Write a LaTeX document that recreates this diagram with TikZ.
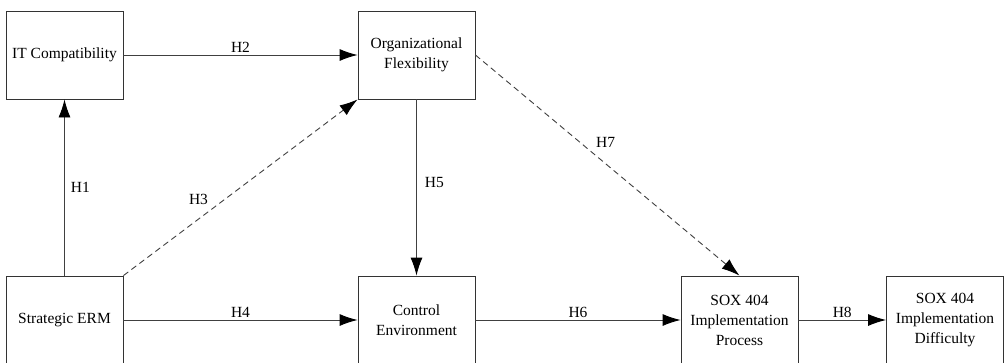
\documentclass[tikz,border=0pt]{standalone}
\usepackage{fontspec}
\setmainfont{Liberation Serif}
\usetikzlibrary{arrows.meta}
\tikzset{
  construct/.style={draw=black!80, line width=0.9pt, minimum width=117pt, minimum height=88pt,
    inner sep=0pt, align=center, font=\fontsize{15.5}{20}\selectfont},
  path/.style={draw=black!75, line width=0.9pt, -{Latex[length=18pt,width=12pt,black]}},
  dashpath/.style={path, dash pattern=on 6pt off 4pt},
  hyp/.style={font=\fontsize{15.5}{20}\selectfont, inner sep=2pt}
}
\begin{document}
\begin{tikzpicture}[x=1pt,y=-1pt]
\useasboundingbox (0,0) rectangle (1005,362);

\node[construct] (itc) at (64.5,55) {IT Compatibility};
\node[construct] (flex) at (416.5,55) {Organizational\\Flexibility};
\node[construct] (erm) at (64.5,320) {Strategic ERM};
\node[construct] (ctrl) at (416.5,320) {Control\\Environment};
\node[construct] (proc) at (739.5,320) {SOX 404\\Implementation\\Process};
\node[construct] (diff) at (945,320) {SOX 404\\Implementation\\Difficulty};

\draw [path] (erm) -- (itc) node[hyp,midway,right=4pt]{H1};
\draw [path] (itc) -- (flex) node[hyp,midway,above]{H2};
\draw [dashpath] (erm.north east) -- (flex.south west) node[hyp,pos=0.38,above left=2pt]{H3};
\draw [path] (erm) -- (ctrl) node[hyp,midway,above]{H4};
\draw [path] (flex) -- (ctrl) node[hyp,pos=0.47,right=6pt]{H5};
\draw [path] (ctrl) -- (proc) node[hyp,midway,above]{H6};
\draw [dashpath] (flex.east) -- (proc.north) node[hyp,pos=0.44,above right=2pt]{H7};
\draw [path] (proc) -- (diff) node[hyp,midway,above]{H8};
\end{tikzpicture}
\end{document}
